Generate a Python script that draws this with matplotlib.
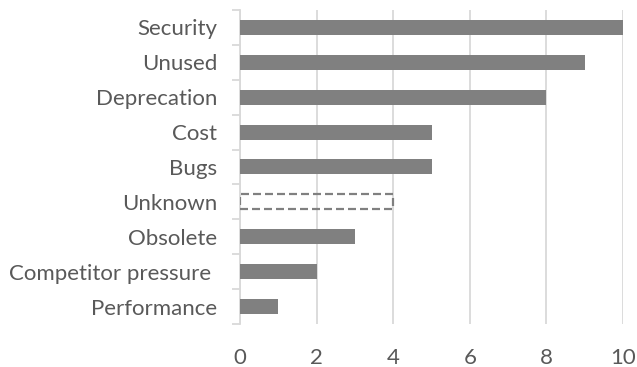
import matplotlib.pyplot as plt
import numpy as np

# 資料（由上到下）
reasons = ['Security', 'Unused', 'Deprecation', 'Cost', 'Bugs', 'Unknown',
           'Obsolete', 'Competitor pressure ', 'Performance']
counts = [10, 9, 8, 5, 5, 4, 3, 2, 1]
dashed = ['Unknown']

plt.rcParams['font.family'] = ['Lato', 'DejaVu Sans']

fig = plt.figure(figsize=(6.37, 3.67), dpi=100)
ax = fig.add_axes([0.3768, 0.1172, 0.978 - 0.3768, 0.9728 - 0.1172])

y = np.arange(len(reasons))[::-1]
for yi, name, c in zip(y, reasons, counts):
    if name in dashed:
        ax.barh(yi, c, height=0.43, facecolor='none', edgecolor='#808080',
                linewidth=1.6, linestyle=(0, (3.6, 1.8)), zorder=3)
    else:
        ax.barh(yi, c, height=0.43, color='#808080', zorder=3)

ax.set_xlim(0, 10)
ax.set_ylim(-0.5, len(reasons) - 0.5)
ax.set_xticks([0, 2, 4, 6, 8, 10])
ax.set_yticks(y)
ax.set_yticklabels(reasons)
ax.set_yticks(np.arange(-0.5, len(reasons)), minor=True)

ax.grid(axis='x', color='#d9d9d9', linewidth=1.3, zorder=0)
for s in ['top', 'right', 'bottom']:
    ax.spines[s].set_visible(False)
ax.spines['left'].set_color('#d9d9d9')
ax.spines['left'].set_linewidth(1.3)

ax.tick_params(axis='y', which='major', length=0, pad=16.5, labelsize=16, labelcolor='#595959')
ax.tick_params(axis='y', which='minor', length=6, width=1.3, color='#d9d9d9')
ax.tick_params(axis='x', length=0, pad=17, labelsize=16, labelcolor='#595959')

plt.savefig('out.png', dpi=100)
